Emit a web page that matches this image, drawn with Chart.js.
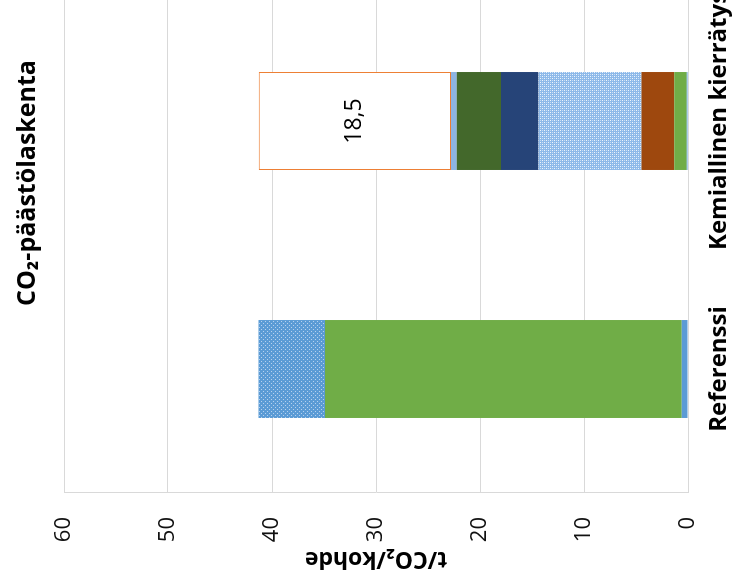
<!DOCTYPE html>
<html>
<head>
<meta charset="utf-8">
<script src="https://cdn.jsdelivr.net/npm/chart.js@4.4.1/dist/chart.umd.min.js"></script>
<style>
  html, body { margin: 0; padding: 0; background: #fff; overflow: hidden; width: 743px; height: 587px; }
  /* the column chart is drawn upright and turned a quarter turn to the left */
  #frame { position: absolute; left: 0; top: 0; width: 640px; height: 743px;
           transform-origin: 0 0; transform: translate(0, 587px) rotate(-90deg); }
</style>
</head>
<body>
<div id="frame"><canvas id="c" width="640" height="743"></canvas></div>
<script>
// --- data ---
const categories = ['Referenssi', 'Kemiallinen kierrätys'];
const chartTitle = 'CO₂-päästölaskenta';
const axisTitle = 't/CO₂/kohde';
const yTicks = [0, 10, 20, 30, 40, 50, 60];

const sBlue        = [0.6, 0.13];
const sGreen       = [34.3, 1.2];
const sBrown       = [null, 3.15];
const sLightDotted = [null, 9.9];
const sDarkBlue    = [null, 3.6];
const sDarkGreen   = [null, 4.25];
const sPaleBlue    = [null, 0.55];
const sBlueDotted  = [6.4, null];
const sReduction   = [null, 18.5];

const FONT = "'Open Sans', 'DejaVu Sans', sans-serif";

// small tiled fills for the dotted segments
function makePattern(w, h, base, dots) {
  const c = document.createElement('canvas');
  c.width = w; c.height = h;
  const g = c.getContext('2d');
  g.fillStyle = base; g.fillRect(0, 0, w, h);
  dots.forEach(([x, y, col]) => { g.fillStyle = col; g.fillRect(x, y, 1, 1); });
  return g.createPattern(c, 'repeat');
}
const ctx = document.getElementById('c').getContext('2d');
const blueDots = makePattern(4, 4, '#5B9BD5', [[1, 1, '#B7D2EE'], [3, 3, '#B7D2EE']]);
const lightDots = makePattern(4, 4, '#8DB9E9', [[0, 0, '#EEF5FC'], [2, 2, '#EEF5FC'], [2, 0, '#C6DCF3'], [0, 2, '#C6DCF3']]);

// chart title drawn across the top edge
const sideTitle = {
  id: 'sideTitle',
  afterDraw(chart) {
    const c = chart.ctx;
    c.save();
    c.font = 'bold 25px ' + FONT;
    c.fillStyle = '#000';
    c.textAlign = 'center';
    c.textBaseline = 'alphabetic';
    c.fillText(chartTitle, 404, 35);
    c.restore();
  }
};

// value written inside the segments that ask for it
const valueLabels = {
  id: 'valueLabels',
  afterDatasetsDraw(chart) {
    const c = chart.ctx;
    chart.data.datasets.forEach((ds, i) => {
      if (!ds.showValue) return;
      chart.getDatasetMeta(i).data.forEach((el, j) => {
        const v = ds.data[j];
        if (v == null) return;
        const p = el.getProps(['x', 'y', 'base'], true);
        c.save();
        c.font = '23px ' + FONT;
        c.fillStyle = '#000';
        c.textAlign = 'center';
        c.textBaseline = 'middle';
        c.fillText(String(v).replace('.', ','), p.x, (p.y + p.base) / 2);
        c.restore();
      });
    });
  }
};

function seg(data, color, extra) {
  return Object.assign({ data, backgroundColor: color, borderWidth: 0,
    barPercentage: 0.395, categoryPercentage: 1 }, extra || {});
}

new Chart(ctx, {
  type: 'bar',
  data: {
    labels: categories,
    datasets: [
      seg(sBlue, '#5B9BD5'),
      seg(sGreen, '#70AD47'),
      seg(sBrown, '#9E480E'),
      seg(sLightDotted, lightDots),
      seg(sDarkBlue, '#264478'),
      seg(sDarkGreen, '#43682B'),
      seg(sPaleBlue, '#8DB4E2'),
      seg(sBlueDotted, blueDots),
      seg(sReduction, '#FFFFFF', { borderColor: '#ED7D31', borderWidth: 1, borderSkipped: false, showValue: true })
    ]
  },
  options: {
    responsive: false,
    animation: false,
    devicePixelRatio: 1,
    layout: { padding: { top: 64, right: 50, left: 0, bottom: 0 } },
    plugins: { legend: { display: false }, title: { display: false }, tooltip: { enabled: false } },
    scales: {
      x: {
        stacked: true,
        grid: { display: false, drawTicks: false },
        border: { display: true, color: '#D9D9D9' },
        ticks: { color: '#000', font: { family: FONT, size: 24, weight: 'bold' },
                 padding: 17, maxRotation: 0, minRotation: 0, autoSkip: false },
        afterFit(s) { s.height = 55; }
      },
      y: {
        stacked: true,
        min: yTicks[0],
        max: yTicks[yTicks.length - 1],
        afterBuildTicks(s) { s.ticks = yTicks.map(v => ({ value: v })); },
        grid: { color: '#D9D9D9', drawTicks: false },
        border: { display: true, color: '#D9D9D9' },
        ticks: { color: '#111', font: { family: FONT, size: 22 }, padding: 24 },
        title: { display: true, text: axisTitle, color: '#000',
                 font: { family: FONT, size: 23, weight: 'bold' }, padding: { top: 15, bottom: 0 } },
        afterFit(s) { s.width = 94; }
      }
    }
  },
  plugins: [sideTitle, valueLabels]
});
</script>
</body>
</html>
